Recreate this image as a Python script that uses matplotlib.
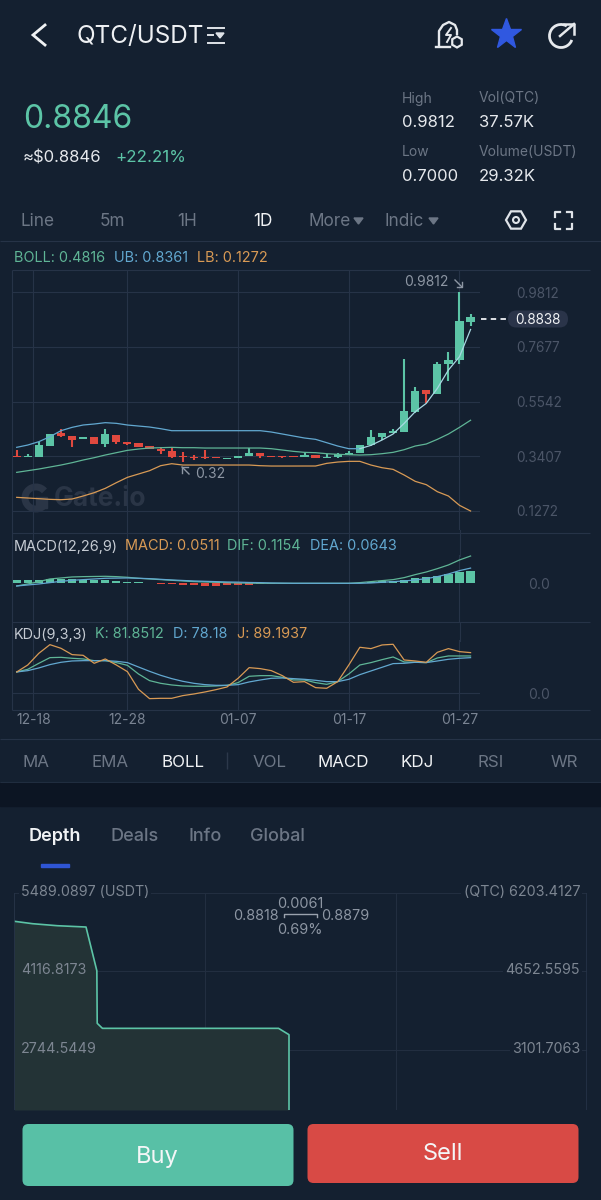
import numpy as np
import matplotlib
matplotlib.use("Agg")
import matplotlib.pyplot as plt
from matplotlib.patches import FancyBboxPatch, Rectangle, Arc, RegularPolygon, Polygon

plt.rcParams["font.family"] = ["Inter", "DejaVu Sans"]

# Candles, oldest first
opens = [.3406, .3367, .3393, .3809, .4304, .4213, .4070, .4174, .3888, .4239, .3979, .3914, .3797, .3679,
         .3627, .3406, .3380, .3393, .3354, .3315, .3328, .3406, .3523, .3406, .3406, .3406, .3380, .3445,
         .3341, .3380, .3458, .3536, .3835, .4161, .4317, .4356, .5137, .5983, .5827, .6999, .7155, .8652]
closes = [.3380, .3406, .3836, .4291, .4187, .4044, .4174, .3888, .4278, .3966, .3888, .3783, .3705, .3627,
          .3393, .3367, .3354, .3341, .3328, .3354, .3432, .3536, .3419, .3380, .3380, .3367, .3458, .3341,
          .3393, .3484, .3549, .3835, .4161, .4330, .4382, .5163, .5970, .5827, .6999, .7168, .8678, .8838]
highs = [.3653, .3484, .3979, .4291, .4460, .4213, .4174, .4174, .4473, .4239, .3979, .3914, .3797, .3783,
         .3718, .3588, .3458, .3653, .3354, .3354, .3432, .3718, .3523, .3406, .3406, .3406, .3588, .3445,
         .3497, .3549, .3601, .3835, .4434, .4330, .4486, .7194, .6126, .5983, .7077, .7467, .9812, .8951]
lows = [.3380, .3367, .3393, .3809, .4174, .3757, .4070, .3888, .3783, .3888, .3836, .3783, .3705, .3497,
        .3328, .3198, .3263, .3289, .3328, .3315, .3328, .3406, .3328, .3380, .3328, .3367, .3380, .3341,
        .3341, .3341, .3458, .3536, .3809, .4044, .4304, .4356, .5111, .5502, .5827, .6348, .6999, .8509]

boll_ub = [.3758, .3848, .3979, .4174, .4408, .4538, .4630, .4669, .4721, .4695, .4630, .4590, .4551, .4486,
           .4408, .4408, .4408, .4408, .4408, .4408, .4408, .4408, .4408, .4356, .4278, .4200, .4122, .4070,
           .3940, .3809, .3705, .3705, .3835, .4044, .4278, .4695, .5150, .5476, .6062, .6777, .7298, .8361]
boll_mid = [.2781, .2846, .2911, .2989, .3067, .3158, .3263, .3354, .3458, .3549, .3640, .3692, .3731, .3744,
            .3757, .3744, .3744, .3731, .3731, .3731, .3731, .3731, .3731, .3705, .3653, .3601, .3562, .3549,
            .3510, .3484, .3471, .3458, .3471, .3510, .3562, .3666, .3809, .3888, .4070, .4278, .4538, .4816]
boll_lb = [.1805, .1779, .1753, .1727, .1714, .1740, .1857, .1987, .2156, .2378, .2586, .2716, .2846, .3041,
           .3119, .3067, .3067, .3067, .3067, .3067, .3067, .3067, .3041, .3028, .3028, .3028, .3029, .3029,
           .3132, .3184, .3211, .3211, .3067, .2963, .2898, .2677, .2430, .2300, .2026, .1857, .1493, .1272]

macd_hist = [.0155, .0141, .0127, .0183, .0197, .0169, .0155, .0141, .0127, .0099, .0071, .0042, .0014, -.0014,
             -.0042, -.0071, -.0085, -.0099, -.0099, -.0085, -.0071, -.0056, -.0042, -.0028, -.0028, -.0014,
             -.0014, -.0014, -.0007, -.0007, .0002, .0028, .0056, .0099, .0113, .0155, .0240, .0268, .0324,
             .0381, .0479, .0511]
macd_dif = [-.0113, -.0028, .0071, .0183, .0226, .0268, .0282, .0289, .0296, .0282, .0254, .0212, .0183, .0155,
            .0127, .0099, .0071, .0056, .0042, .0028, .0014, .0007, 0, 0, 0, 0, 0, 0, 0, 0, 0, .0028, .0071,
            .0113, .0155, .0240, .0367, .0479, .0620, .0776, .0987, .1154]
macd_dea = [-.0113, -.0071, -.0028, .0028, .0085, .0127, .0155, .0183, .0212, .0219, .0226, .0212, .0197, .0169,
            .0141, .0120, .0099, .0085, .0071, .0056, .0049, .0035, .0028, .0014, .0007, 0, 0, 0, 0, 0, 0, 0,
            .0014, .0042, .0071, .0099, .0141, .0197, .0282, .0395, .0536, .0643]

kdj_k = [46.8, 52.6, 65.8, 78.2, 78.9, 76.8, 75.3, 71.6, 71.6, 67.3, 61.4, 42.4, 27.8, 21.9, 18.3, 16.1, 15.4,
         15.4, 16.1, 17.5, 23.4, 37.3, 38.7, 38.7, 35.1, 29.2, 29.2, 23.4, 19.7, 25.6, 42.4, 62.1, 67.3, 73.8,
         79.7, 68.7, 68.0, 67.3, 77.5, 81.9, 81.9, 81.85]
kdj_d = [46.8, 49.7, 55.6, 62.9, 68.0, 70.9, 71.6, 71.6, 71.6, 70.2, 67.3, 57.7, 48.2, 39.5, 32.2, 26.3, 21.9,
         19.0, 17.5, 17.5, 19.0, 24.9, 29.2, 32.9, 33.6, 32.2, 30.7, 28.5, 25.6, 25.6, 30.7, 40.9, 49.0, 57.0,
         65.1, 65.8, 68.0, 67.3, 70.9, 74.6, 76.8, 78.18]
kdj_j = [46.8, 62.1, 87.7, 106.7, 98.7, 84.8, 83.3, 65.8, 75.3, 62.1, 47.5, 8.8, -11.7, -11.0, -11.0, -5.1, -1.5,
         2.9, 8.0, 13.9, 32.9, 56.3, 54.1, 49.7, 38.7, 24.1, 25.6, 12.4, 11.0, 25.6, 62.1, 100.9, 98.0, 106.0,
         107.5, 73.1, 70.9, 68.0, 89.9, 98.0, 91.4, 89.19]

date_ticks = [1.5, 10, 20, 30, 40]
date_labels = ["12-18", "12-28", "01-07", "01-17", "01-27"]
price_ticks = [0.9812, 0.7677, 0.5542, 0.3407, 0.1272]

# Depth curve (bid side)
depth_price = [.8082, .8131, .8197, .8274, .8303, .8304, .8318, .8790, .8818, .8818]
depth_amount = [4989, 4947, 4912, 4889, 4125, 3206, 3118, 3118, 3007, 1690]
depth_ticks = [5489.0897, 4116.8173, 2744.5449]
depth_ticks_right = ["(QTC) 6203.4127", "4652.5595", "3101.7063"]

BG = "#142030"
BAND = "#0c1523"
GRID = "#263347"
GREEN = "#5cc4a6"
RED = "#e0493f"
BLUE_L = "#62a8d0"
GREEN_L = "#5fb596"
ORANGE = "#d89a55"
MUTED = "#6c7685"
W, H = 601, 1200
X0, XK = 16.7, 11.07  # candle 0 position and candle spacing in pixels

fig = plt.figure(figsize=(W / 100, H / 100), dpi=100, facecolor=BG)


def pixel_axes(z):
    a = fig.add_axes([0, 0, 1, 1], zorder=z)
    a.set_xlim(0, W)
    a.set_ylim(H, 0)
    a.axis("off")
    return a


ui = pixel_axes(0)    # under the charts
top = pixel_axes(10)  # over the charts


def txt(x, y, s, size, color="#e8ecf0", ha="left", **kw):
    return top.text(x, y + 2.5, s, fontsize=size, color=color, ha=ha, va="center", zorder=6, **kw)


def rule(x0, x1, y0, y1, color=GRID, lw=0.8, **kw):
    ui.plot([x0, x1], [y0, y1], color=color, lw=lw, solid_capstyle="butt", zorder=1, **kw)


def panel(t, bottom, ymin, ymax):
    """Axes whose x is the candle index, spanning pixels 12..480 and t..bottom."""
    ax = fig.add_axes([12 / W, 1 - bottom / H, (480 - 12) / W, (bottom - t) / H], zorder=2)
    ax.set_xlim((12 - X0) / XK, (480 - X0) / XK)
    ax.set_ylim(ymin, ymax)
    ax.patch.set_alpha(0)
    for s in ax.spines.values():
        s.set_visible(False)
    ax.set_xticks(date_ticks)
    ax.tick_params(length=0, labelbottom=False, labelleft=False)
    ax.grid(True, color=GRID, lw=0.8)
    ax.set_axisbelow(True)
    return ax


# ---- header ----
top.plot([45, 33, 45], [25, 35, 45], color="#f0f2f4", lw=2.0, solid_joinstyle="miter")
txt(77, 33.5, "QTC/USDT", 17.5, "#eef0f3")
top.plot([208, 224], [27.5, 27.5], color="#dfe3e8", lw=1.4)
top.plot([208, 213], [35, 35], color="#dfe3e8", lw=1.4)
top.plot([208, 224], [42.5, 42.5], color="#dfe3e8", lw=1.4)
top.add_patch(Polygon([[216, 33], [224, 33], [220, 38]], color="#dfe3e8", zorder=3))

# bell / share icons
top.plot([439, 439, 443, 449, 455, 457, 457], [46, 31, 25, 22, 25, 30, 34], color="#e6e9ed", lw=1.7)
top.plot([436, 450], [47, 47], color="#e6e9ed", lw=1.7)
top.plot([451, 446, 451, 447], [28, 35, 35, 42], color="#e6e9ed", lw=1.4)
top.add_patch(RegularPolygon((457, 42), 6, radius=5.5, fill=False, ec="#e6e9ed", lw=1.6, zorder=3))
top.plot([505.5], [34], marker="*", ms=23, color="#3058e0", mec="#3058e0", zorder=3)
top.add_patch(Arc((561, 36), 23, 23, theta1=-340, theta2=-60, ec="#e6e9ed", lw=2.0, zorder=3))
top.plot([560, 574], [36, 24], color="#e6e9ed", lw=1.8)
top.plot([564, 574, 574], [24, 24, 34], color="#e6e9ed", lw=1.8)

txt(23, 117, "0.8846", 23, GREEN)
txt(23, 155, "≈$0.8846", 12, "#e6e9ed")
txt(115, 155, "+22.21%", 12.2, GREEN)

txt(402, 96, "High", 10, MUTED)
txt(479, 96, "Vol(QTC)", 10, MUTED)
txt(402, 120, "0.9812", 12, "#e6e9ed")
txt(479, 120, "37.57K", 12, "#e6e9ed")
txt(402, 150, "Low", 10, MUTED)
txt(479, 150, "Volume(USDT)", 10, MUTED)
txt(402, 174, "0.7000", 12, "#e6e9ed")
txt(479, 174, "29.32K", 12, "#e6e9ed")

for xx, s, c in [(21, "Line", MUTED), (100, "5m", MUTED), (177, "1H", MUTED), (253, "1D", "#f0f2f4"),
                 (309, "More", MUTED), (385, "Indic", MUTED)]:
    txt(xx, 219, s, 12.4, c)
top.add_patch(Polygon([[354, 218], [363, 218], [358.5, 224]], color=MUTED, zorder=3))
top.add_patch(Polygon([[429, 218], [438, 218], [433.5, 224]], color=MUTED, zorder=3))
top.add_patch(RegularPolygon((516, 220), 6, radius=10, orientation=np.pi / 2, fill=False, ec="#dfe3e8", lw=1.6, zorder=3))
top.add_patch(plt.Circle((516, 220), 3, fill=False, ec="#dfe3e8", lw=1.5, zorder=3))
for cx, cy, dx, dy in [(555, 212, 1, 1), (572, 212, -1, 1), (555, 229, 1, -1), (572, 229, -1, -1)]:
    top.plot([cx + 5 * dx, cx, cx], [cy, cy, cy + 5 * dy], color="#dfe3e8", lw=1.6)

rule(0, W, 241, 241)

# ---- legends ----
for xx, s, c in [(14, "BOLL: 0.4816", GREEN_L), (114, "UB: 0.8361", BLUE_L), (197, "LB: 0.1272", ORANGE)]:
    txt(xx, 255, s, 10.4, c)
for xx, s, c in [(14, "MACD(12,26,9)", "#c4cad2"), (125, "MACD: 0.0511", ORANGE), (227, "DIF: 0.1154", GREEN_L),
                 (310, "DEA: 0.0643", BLUE_L)]:
    txt(xx, 544, s, 10.4, c)
for xx, s, c in [(14, "KDJ(9,3,3)", "#c4cad2"), (95, "K: 81.8512", GREEN_L), (173, "D: 78.18", BLUE_L),
                 (237, "J: 89.1937", ORANGE)]:
    txt(xx, 632, s, 10.4, c)

# panel frames
for yy in [270, 533, 622, 710]:
    rule(12, 590, yy, yy)
rule(12, 12, 270, 710)

# watermark
ui.add_patch(Arc((36, 498), 22, 22, theta1=40, theta2=320, ec="#2a3546", lw=5, zorder=1))
ui.add_patch(Rectangle((36, 497), 11, 11, color="#2a3546", zorder=1))
ui.text(54, 499, "Gate.io", fontsize=19, color="#2a3546", fontweight="bold", va="center", zorder=1)

# ---- price panel ----
price_per_px = 0.2135 / 54.67
ymax = 0.9812 + (292.3 - 270) * price_per_px
ymin = 0.1272 - (530 - 511) * price_per_px
ax = panel(270, 530, ymin, ymax)
idx = np.arange(len(opens))
o, c = np.array(opens), np.array(closes)
up = c >= o
colors = np.where(up, GREEN, RED)
ax.vlines(idx, lows, highs, colors=colors, lw=1.5, zorder=3)
ax.bar(idx, np.maximum(np.abs(c - o), 0.0035), bottom=np.minimum(o, c), width=0.74, color=colors, zorder=3)
ax.plot(idx[:32], boll_ub[:32], color=BLUE_L, lw=0.9, zorder=4)
ax.plot(idx[31:], boll_ub[31:], color="#a8d8e2", lw=0.9, zorder=4)
ax.plot(idx, boll_mid, color=GREEN_L, lw=0.9, zorder=4)
ax.plot(idx, boll_lb, color=ORANGE, lw=0.9, zorder=4)
ax.yaxis.tick_right()
ax.set_yticks(price_ticks)
ax.set_yticklabels([f"{v:.4f}" for v in price_ticks], fontsize=9.8, color="#4b5567")
ax.tick_params(axis="y", labelright=True, pad=26)

txt(404, 280, "0.9812", 10, "#8d96a3")
top.plot([455, 462], [280, 287], color="#8d96a3", lw=1)
top.plot([456.5, 462, 462], [287, 287, 281.5], color="#8d96a3", lw=1)
txt(195, 471, "0.32", 10, "#8d96a3")
top.plot([189, 182], [474, 467], color="#8d96a3", lw=1)
top.plot([182, 182, 187.5], [472.5, 467, 467], color="#8d96a3", lw=1)
top.plot([481, 508], [319, 319], color="#eef0f3", lw=1.3, ls=(0, (3, 2.4)), zorder=5)
top.add_patch(FancyBboxPatch((508, 310.5), 60, 17, boxstyle="round,pad=0,rounding_size=8.5", fc="#2a3449",
                             ec="none", zorder=4))
txt(538, 317, "0.8838", 9.8, "#f0f2f4", ha="center")

# ---- MACD panel ----
macd_per_px = 0.00423
ax2 = panel(555, 622, -(622 - 583.3) * macd_per_px, (583.3 - 555) * macd_per_px)
ax2.bar(idx, macd_hist, width=0.74, color=np.where(np.array(macd_hist) >= 0, GREEN, RED), zorder=3)
ax2.plot(idx, macd_dif, color=GREEN_L, lw=0.9, zorder=4)
ax2.plot(idx, macd_dea, color=BLUE_L, lw=0.9, zorder=4)
ax2.yaxis.tick_right()
ax2.set_yticks([0.0])
ax2.set_yticklabels(["0.0"], fontsize=10, color="#4b5567")
ax2.tick_params(axis="y", labelright=True, pad=34.5)
ax2.grid(False, axis="y")
for xv in date_ticks:
    ui.plot([X0 + XK * xv] * 2, [530, 556], color=GRID, lw=0.8, zorder=1)

# ---- KDJ panel ----
kdj_per_px = 0.731 * 3
ax3 = panel(640, 710, -(710 - 693.3) * kdj_per_px, (693.3 - 640) * kdj_per_px)
ax3.plot(idx, kdj_k, color=GREEN_L, lw=0.9, zorder=4, clip_on=False)
ax3.plot(idx, kdj_d, color=BLUE_L, lw=0.9, zorder=4, clip_on=False)
ax3.plot(idx, kdj_j, color=ORANGE, lw=0.9, zorder=4, clip_on=False)
ax3.yaxis.tick_right()
ax3.set_yticks([0.0])
ax3.set_yticklabels(["0.0"], fontsize=10, color="#4b5567")
ax3.set_xticklabels(date_labels, fontsize=10, color="#7a8493")
ax3.tick_params(axis="y", labelright=True, pad=34.5)
ax3.tick_params(axis="x", labelbottom=True, pad=2.5)
for xv in date_ticks:
    ui.plot([X0 + XK * xv] * 2, [622, 641], color=GRID, lw=0.8, zorder=1)

# ---- indicator tabs ----
rule(0, W, 739, 739)
rule(0, W, 782, 782)
ui.add_patch(Rectangle((0, 782.5), W, 23, color=BAND, zorder=1))
for xx, s, col in [(36, "MA", MUTED), (110, "EMA", MUTED), (183, "BOLL", "#f0f2f4"), (270, "VOL", MUTED),
                   (343, "MACD", "#f0f2f4"), (417, "KDJ", "#f0f2f4"), (491, "RSI", MUTED), (564, "WR", MUTED)]:
    txt(xx, 760, s, 12.2, col, ha="center")
rule(227, 227, 752, 769, "#2c384a", 1)

for xx, s, col, fw in [(29, "Depth", "#f0f2f4", "semibold"), (110, "Deals", MUTED, "medium"),
                       (189, "Info", MUTED, "medium"), (250, "Global", MUTED, "medium")]:
    txt(xx, 834, s, 13, col, fontweight=fw)
top.add_patch(Rectangle((41, 864), 28, 2.6, color="#2f55d4", zorder=3))

# ---- depth chart ----
depth_top, depth_bottom = 892.7, 1110
amount_per_px = 1372.2724 / 78.5
price_per_px2 = 0.000268
left_p = 0.8818 - (289 - 14) * price_per_px2
right_p = 0.8818 + (587 - 289) * price_per_px2
ax4 = fig.add_axes([14 / W, 1 - depth_bottom / H, (587 - 14) / W, (depth_bottom - depth_top) / H], zorder=2)
ax4.set_xlim(left_p, right_p)
ax4.set_ylim(depth_ticks[0] - (depth_bottom - depth_top) * amount_per_px, depth_ticks[0])
ax4.patch.set_alpha(0)
for s in ax4.spines.values():
    s.set_visible(False)
ax4.set_yticks(depth_ticks)
ax4.set_xticks(np.linspace(left_p, right_p, 4))
ax4.tick_params(length=0, labelleft=False, labelbottom=False)
ax4.grid(True, color="#222e40", lw=0.8)
ax4.set_axisbelow(True)
ax4.fill_between(depth_price, depth_amount, ax4.get_ylim()[0], color="#233336", lw=0, zorder=2)
ax4.plot(depth_price, depth_amount, color=GREEN, lw=1.2, zorder=3)
ax4.plot([left_p, left_p], ax4.get_ylim(), color=GRID, lw=1.2, zorder=3)
ax4.plot([right_p, right_p], ax4.get_ylim(), color=GRID, lw=1.2, zorder=3)

label_box = dict(fc=BG, ec="none", pad=1.5)
txt(21, 889.5, "5489.0897 (USDT)", 10.3, "#7d8692", bbox=label_box)
txt(580, 889.5, depth_ticks_right[0], 10.3, "#7d8692", ha="right", bbox=label_box)
txt(21, 968, "4116.8173", 10.3, "#7d8692")
txt(21, 1046.5, "2744.5449", 10.3, "#7d8692")
txt(580, 968, depth_ticks_right[1], 10.3, "#7d8692", ha="right", bbox=label_box)
txt(580, 1046.5, depth_ticks_right[2], 10.3, "#7d8692", ha="right", bbox=label_box)
txt(300.5, 902, "0.0061", 10.4, "#8d96a3", ha="center")
txt(279, 913.5, "0.8818", 10.4, "#8d96a3", ha="right")
txt(321, 913.5, "0.8879", 10.4, "#8d96a3")
txt(300, 927.5, "0.69%", 10.4, "#8d96a3", ha="center")
top.plot([284, 284, 316.5, 316.5], [917, 913.5, 913.5, 917], color="#9aa2ae", lw=1, zorder=5)

# ---- buttons ----
top.add_patch(FancyBboxPatch((22.5, 1124), 271, 62, boxstyle="round,pad=0,rounding_size=6", fc="#58c0a6", ec="none", zorder=5))
top.add_patch(FancyBboxPatch((307.5, 1124), 271, 59, boxstyle="round,pad=0,rounding_size=6", fc="#d84a45", ec="none", zorder=5))
txt(157, 1154, "Buy", 17, "#f4f6f7", ha="center")
txt(442.5, 1151.5, "Sell", 17, "#f4f6f7", ha="center")

fig.savefig("out.png", dpi=100, facecolor=BG)
